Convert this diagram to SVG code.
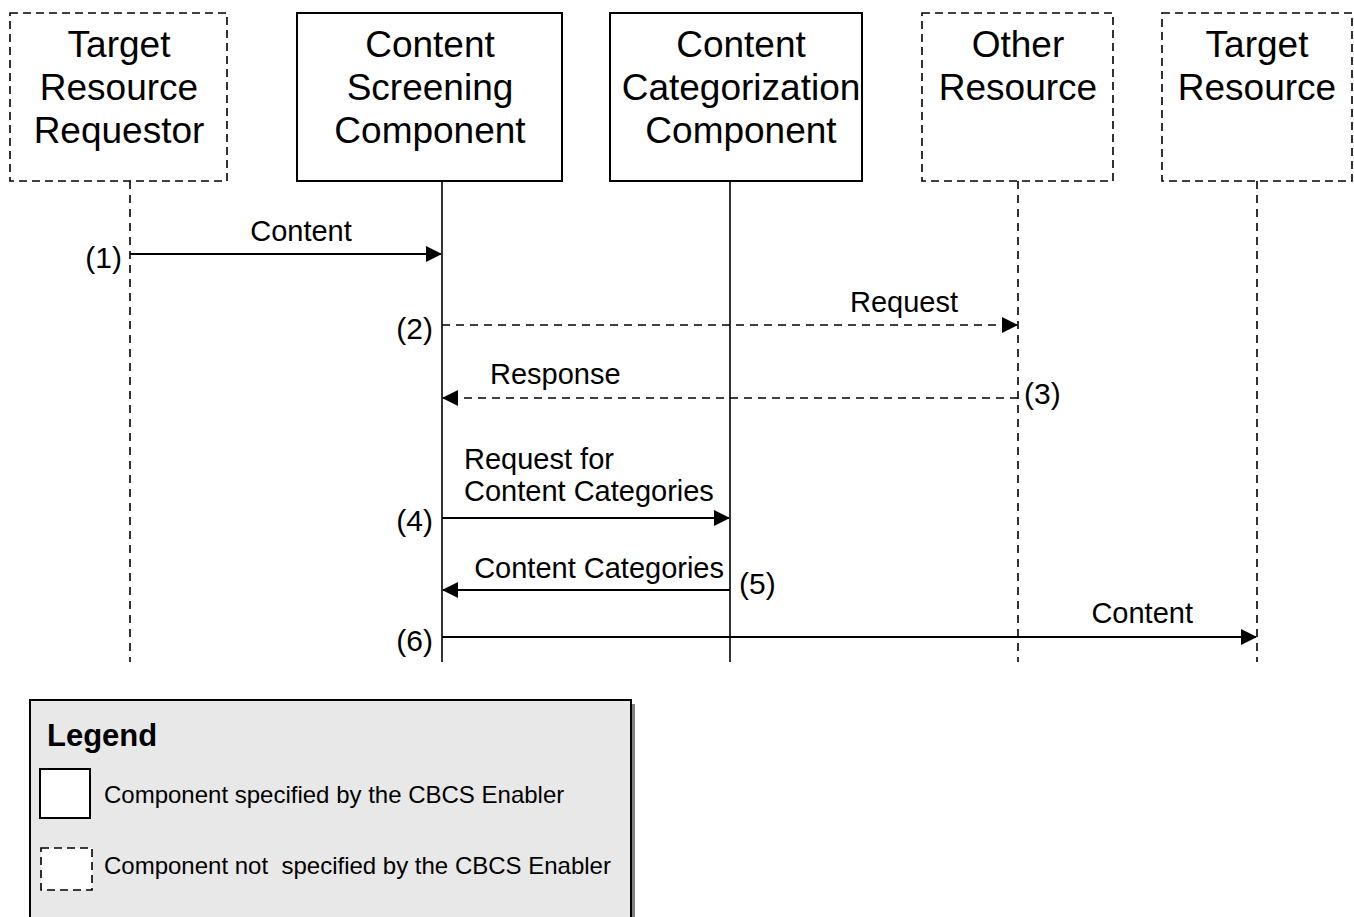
<svg xmlns="http://www.w3.org/2000/svg" width="1354" height="917" viewBox="0 0 1354 917">
<style>
.box{fill:#fff;stroke:#000;stroke-width:2}
.dbox{fill:#fff;stroke:#000;stroke-width:1.6;stroke-dasharray:8 5}
.life{stroke:#000;stroke-width:1.6;fill:none}
.dlife{stroke:#000;stroke-width:1.6;fill:none;stroke-dasharray:8 6}
.msg{stroke:#000;stroke-width:2;fill:none}
.dmsg{stroke:#000;stroke-width:1.6;fill:none;stroke-dasharray:8 6}
.bt{font-family:"Liberation Sans",Arial,sans-serif;font-size:37px;text-anchor:middle;fill:#000}
.lt{font-family:"Liberation Sans",Arial,sans-serif;font-size:29px;fill:#000}
.nt{font-family:"Liberation Sans",Arial,sans-serif;font-size:30px;fill:#000}
.gt{font-family:"Liberation Sans",Arial,sans-serif;font-size:24px;fill:#000}
</style>
<defs>
<marker id="ah" markerWidth="16" markerHeight="16" viewBox="0 0 16 16" refX="15" refY="8" orient="auto" markerUnits="userSpaceOnUse">
<path d="M0,0 L16,8 L0,16 z" fill="#000"/>
</marker>
</defs>

<g id="node-trr">
<rect class="dbox" x="10" y="13" width="217" height="168"/>
<text class="bt" x="119" y="57">Target</text>
<text class="bt" x="119" y="100">Resource</text>
<text class="bt" x="119" y="143">Requestor</text>
<line class="dlife" x1="130" y1="181" x2="130" y2="662"/>
</g>
<g id="node-csc">
<rect class="box" x="297" y="13" width="265" height="168"/>
<text class="bt" x="430" y="57">Content</text>
<text class="bt" x="430" y="100">Screening</text>
<text class="bt" x="430" y="143">Component</text>
<line class="life" x1="442" y1="181" x2="442" y2="662"/>
</g>
<g id="node-ccc">
<rect class="box" x="610" y="13" width="252" height="168"/>
<text class="bt" x="741" y="57">Content</text>
<text class="bt" x="741" y="100">Categorization</text>
<text class="bt" x="741" y="143">Component</text>
<line class="life" x1="730" y1="181" x2="730" y2="662"/>
</g>
<g id="node-or">
<rect class="dbox" x="922" y="13" width="191" height="168"/>
<text class="bt" x="1018" y="57">Other</text>
<text class="bt" x="1018" y="100">Resource</text>
<line class="dlife" x1="1018" y1="181" x2="1018" y2="662"/>
</g>
<g id="node-tr">
<rect class="dbox" x="1162" y="13" width="190" height="168"/>
<text class="bt" x="1257" y="57">Target</text>
<text class="bt" x="1257" y="100">Resource</text>
<line class="dlife" x1="1257" y1="181" x2="1257" y2="662"/>
</g>

<g id="connectors">
<line class="msg" x1="130" y1="254" x2="441" y2="254" marker-end="url(#ah)"/>
<text class="lt" x="301" y="241" text-anchor="middle">Content</text>
<text class="nt" x="122" y="268" text-anchor="end">(1)</text>

<line class="dmsg" x1="442" y1="325" x2="1017" y2="325" marker-end="url(#ah)"/>
<text class="lt" x="958" y="312" text-anchor="end">Request</text>
<text class="nt" x="433" y="339" text-anchor="end">(2)</text>

<line class="dmsg" x1="1018" y1="398" x2="443" y2="398" marker-end="url(#ah)"/>
<text class="lt" x="490" y="384">Response</text>
<text class="nt" x="1024" y="404">(3)</text>

<line class="msg" x1="442" y1="518" x2="729" y2="518" marker-end="url(#ah)"/>
<text class="lt" x="464" y="469">Request for</text>
<text class="lt" x="464" y="501">Content Categories</text>
<text class="nt" x="433" y="531" text-anchor="end">(4)</text>

<line class="msg" x1="730" y1="590" x2="443" y2="590" marker-end="url(#ah)"/>
<text class="lt" x="724" y="578" text-anchor="end">Content Categories</text>
<text class="nt" x="739" y="594">(5)</text>

<line class="msg" x1="442" y1="637" x2="1256" y2="637" marker-end="url(#ah)"/>
<text class="lt" x="1193" y="623" text-anchor="end">Content</text>
<text class="nt" x="433" y="651" text-anchor="end">(6)</text>
</g>

<g id="legend">
<rect x="34" y="704" width="601" height="220" fill="#808080"/>
<rect x="30" y="700" width="601" height="220" fill="#e8e8e8" stroke="#000" stroke-width="2"/>
<text x="47" y="746" font-family="Liberation Sans,Arial,sans-serif" font-size="31" font-weight="bold">Legend</text>
<rect class="box" x="40" y="769" width="50" height="49" stroke-width="1.6"/>
<text class="gt" x="104" y="803">Component specified by the CBCS Enabler</text>
<rect class="dbox" x="41" y="848" width="51" height="42" stroke-dasharray="6 4"/>
<text class="gt" x="104" y="874" xml:space="preserve">Component not  specified by the CBCS Enabler</text>
</g>
</svg>
